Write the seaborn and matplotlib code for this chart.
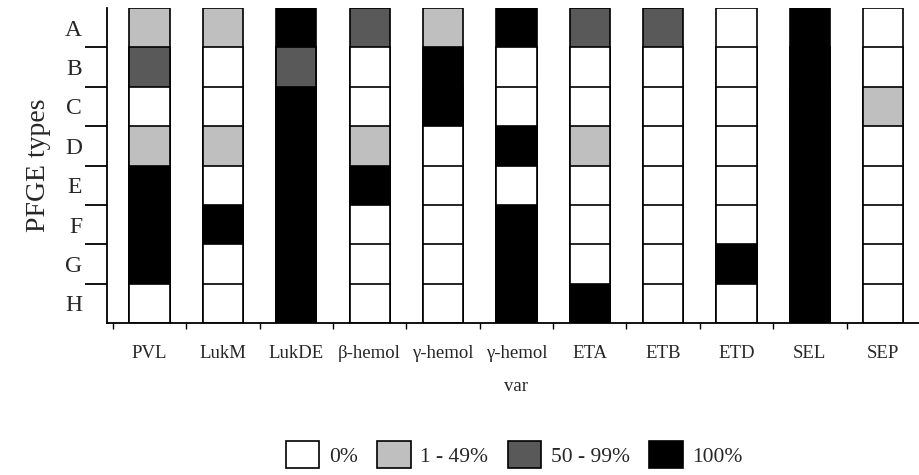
import pandas as pd
import matplotlib
matplotlib.use('Agg')
from matplotlib import pyplot as plt
from matplotlib.patches import Patch
import seaborn as sns

sns.set_theme(style = 'white')
plt.rcParams['font.family'] = ['Liberation Serif', 'DejaVu Serif']

# PFGE types top to bottom, and toxin genes left to right
types = ['A', 'B', 'C', 'D', 'E', 'F', 'G', 'H']
genes = ['PVL', 'LukM', 'LukDE', 'β-hemol', 'γ-hemol', 'γ-hemol\nvar', 'ETA', 'ETB', 'ETD', 'SEL', 'SEP']
levels = ['0%', '1 - 49%', '50 - 99%', '100%']
colors = ['#ffffff', '#bfbfbf', '#595959', '#000000']

# level index (0..3) for types A..H
pvl = [1, 2, 0, 1, 3, 3, 3, 0]
lukm = [1, 0, 0, 1, 0, 3, 0, 0]
lukde = [3, 2, 3, 3, 3, 3, 3, 3]
bhemol = [2, 0, 0, 1, 3, 0, 0, 0]
ghemol = [1, 3, 3, 0, 0, 0, 0, 0]
ghemol_var = [3, 0, 0, 3, 0, 3, 3, 3]
eta = [2, 0, 0, 1, 0, 0, 0, 3]
etb = [2, 0, 0, 0, 0, 0, 0, 0]
etd = [0, 0, 0, 0, 0, 0, 3, 0]
sel = [3, 3, 3, 3, 3, 3, 3, 3]
sep = [0, 0, 1, 0, 0, 0, 0, 0]

cols = [pvl, lukm, lukde, bhemol, ghemol, ghemol_var, eta, etb, etd, sel, sep]
rows = []
for g, vals in zip(genes, cols):
	for i, t in enumerate(types):
		rows.append({'gene': g, 'type': t, 'level': levels[vals[i]], 'top': len(types) - i})
df = pd.DataFrame(rows)
palette = dict(zip(levels, colors))

fig = plt.figure(figsize = (9.2, 4.75), dpi = 100)
ax = fig.add_axes([107 / 920, 1 - 323 / 475, 1 - 107 / 920, 315 / 475])

# stacked cells: draw the tallest (type A) first, overlay the lower ones
for t in types:
	sub = df[df['type'] == t]
	sns.barplot(data = sub, x = 'gene', y = 'top', hue = 'level', order = genes, hue_order = levels,
		palette = palette, dodge = False, width = 0.55, saturation = 1, edgecolor = 'black',
		linewidth = 1.2, legend = False, ax = ax)

ax.set_xlim(-0.58, 10.4)
ax.set_ylim(0, 8)
sns.despine(ax = ax)
for s in ['left', 'bottom']:
	ax.spines[s].set_color('black')
	ax.spines[s].set_linewidth(1.3)

ax.set_xticks([k - 0.5 for k in range(len(genes) + 1)])
ax.set_xticklabels([])
ax.set_xticks(range(len(genes)), minor = True)
ax.set_xticklabels(genes, minor = True, fontsize = 13.5, linespacing = 2.2)
ax.tick_params(axis = 'x', which = 'major', direction = 'out', length = 4, width = 1, color = 'black', bottom = True)
ax.tick_params(axis = 'x', which = 'minor', length = 0, pad = 16, bottom = True)

ax.set_yticks(range(1, len(types)))
ax.set_yticklabels([])
ax.set_yticks([len(types) - i - 0.5 for i in range(len(types))], minor = True)
ax.set_yticklabels(types, minor = True, fontsize = 17)
ax.tick_params(axis = 'y', which = 'major', direction = 'out', length = 16, width = 1.3, color = 'black', left = True)
ax.tick_params(axis = 'y', which = 'minor', length = 0, pad = 18, left = True)

ax.set_xlabel('')
ax.set_ylabel('PFGE types', fontsize = 20, labelpad = 10)

handles = [Patch(facecolor = c, edgecolor = 'black', linewidth = 1.2, label = l) for c, l in zip(colors, levels)]
fig.legend(handles = handles, loc = 'center', bbox_to_anchor = (0.559, 0.043), ncol = 4, frameon = False,
	fontsize = 15.5, handlelength = 1.55, handleheight = 1.5, handletextpad = 0.45, columnspacing = 0.9)

plt.savefig('out.png', dpi = 100)
